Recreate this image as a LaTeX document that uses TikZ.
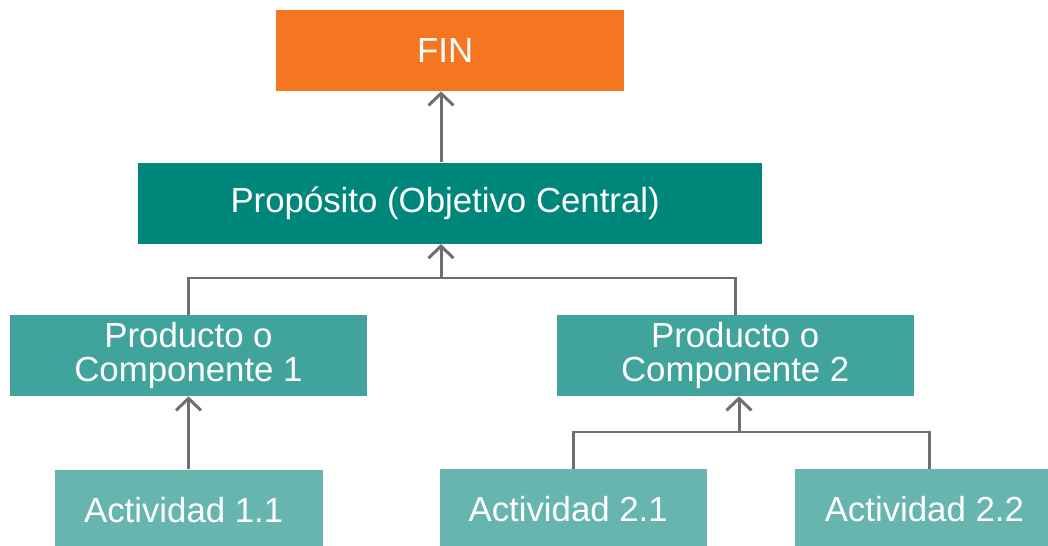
\documentclass[tikz,border=0pt]{standalone}
\usepackage{fontspec}
\setmainfont{Liberation Sans}
\usepackage{xcolor}
\usepackage{tikz}
\usetikzlibrary{positioning,arrows.meta}

\definecolor{finorange}{HTML}{F47621}
\definecolor{propteal}{HTML}{00877B}
\definecolor{prodteal}{HTML}{40A49C}
\definecolor{actteal}{HTML}{66B5AE}
\definecolor{linegray}{HTML}{6E6E70}

\begin{document}
\begin{tikzpicture}[
    font=\fontsize{19.8}{19.4}\selectfont,
    box/.style={text=white, align=center, inner sep=0pt,
        minimum height=1.62cm},
    conn/.style={draw=linegray, line width=1.7pt},
    arr/.style={conn, -{Straight Barb[length=0.24cm,width=0.5cm]}}
]

\useasboundingbox (0,0) rectangle (20.96,-10.92);
\clip (0,0) rectangle (20.96,-10.92);

\node[box,
    fill=finorange,
    minimum width=6.96cm
] (blockFin) at (9.0,-1.01) { FIN };

\node[box,
    fill=propteal,
    below=1.42cm of blockFin,
    minimum width=12.48cm
] (blockProp) { Propósito (Objetivo Central) };

\node[box,
    fill=prodteal,
    minimum width=7.14cm
] (blockProd1) at (3.77,-7.11) { Producto o\\Componente 1 };

\node[box,
    fill=prodteal,
    right=3.78cm of blockProd1,
    minimum width=7.14cm
] (blockProd2) { Producto o\\Componente 2 };

\node[box,
    fill=actteal,
    below=1.46cm of blockProd1,
    minimum width=5.36cm
] (blockAct11) { Actividad 1.1 };

\node[box,
    fill=actteal,
    minimum width=5.34cm
] (blockAct21) at (11.46,-10.19) { Actividad 2.1 };

\node[box,
    fill=actteal,
    right=1.76cm of blockAct21,
    minimum width=5.36cm
] (blockAct22) { Actividad 2.2 };

% junctions of the connectors
\coordinate (joinProd) at (8.82,-5.56);
\coordinate (joinAct) at (14.78,-8.64);

\draw[arr] ([xshift=-0.18cm]blockProp.north) -- ([xshift=-0.18cm]blockFin.south);

\draw[conn] (blockProd1.north) |- (joinProd) -| (blockProd2.north);
\draw[arr] (joinProd) -- (joinProd |- blockProp.south);

\draw[arr] (blockAct11.north) -- (blockProd1.south);

\draw[conn] (blockAct21.north) |- (joinAct) -| (blockAct22.north);
\draw[arr] (joinAct) -- (joinAct |- blockProd2.south);

\end{tikzpicture}
\end{document}
